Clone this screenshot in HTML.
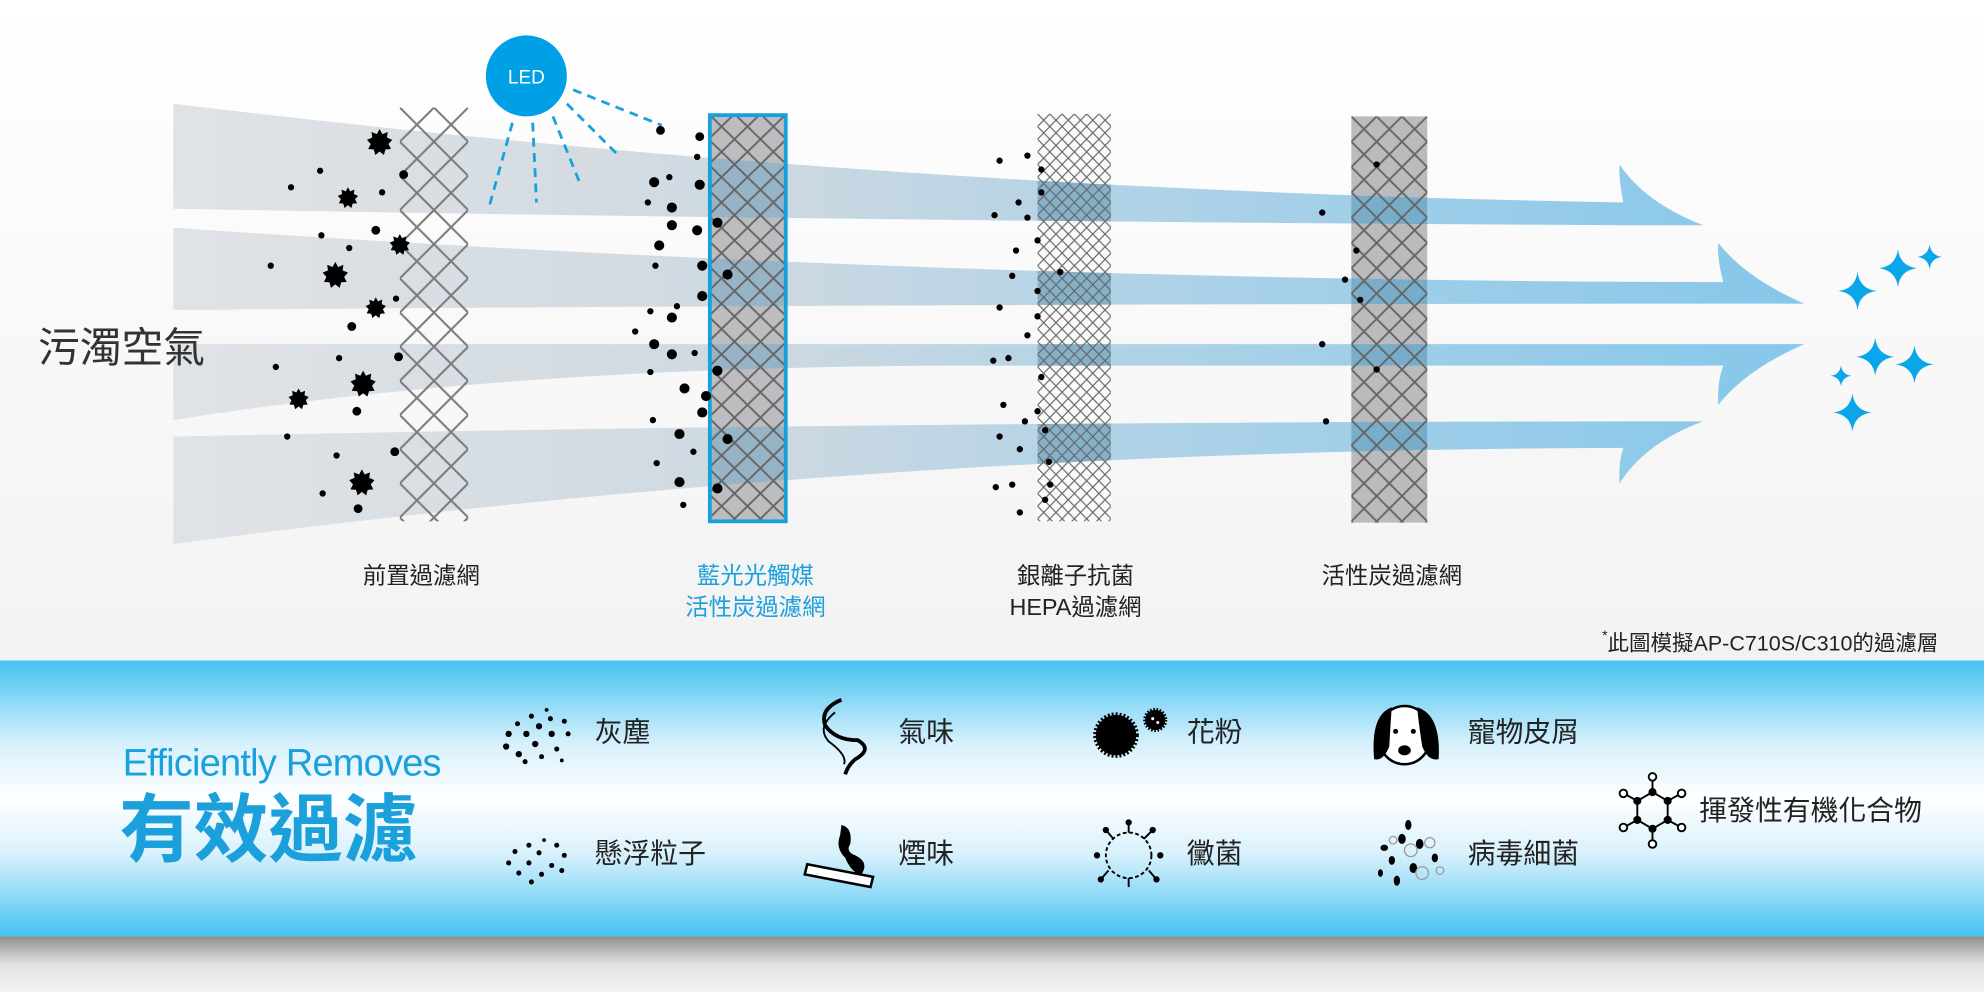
<!DOCTYPE html>
<html><head><meta charset="utf-8"><style>
html,body{margin:0;padding:0;background:#fff}
svg{display:block}
text{font-family:"Liberation Sans","Noto Sans CJK TC",sans-serif}
</style></head><body>
<svg width="1984" height="992" viewBox="0 0 1568 784" xmlns="http://www.w3.org/2000/svg">
<defs>
<linearGradient id="bg" x1="0" y1="0" x2="0" y2="1"><stop offset="0" stop-color="#ffffff"/><stop offset="1" stop-color="#ececec"/></linearGradient>
<linearGradient id="band" x1="0" y1="0" x2="0" y2="1"><stop offset="0" stop-color="#45c3f1"/><stop offset="0.3" stop-color="#d6f0fc"/><stop offset="0.5" stop-color="#ffffff"/><stop offset="0.7" stop-color="#d9f1fc"/><stop offset="1" stop-color="#45c3f1"/></linearGradient>
<linearGradient id="shadow" x1="0" y1="0" x2="0" y2="1"><stop offset="0" stop-color="#8e8e8e"/><stop offset="0.5" stop-color="#e2e2e2"/><stop offset="1" stop-color="#f2f2f2"/></linearGradient>
<linearGradient id="beam" x1="137" y1="0" x2="1420" y2="0" gradientUnits="userSpaceOnUse"><stop offset="0" stop-color="#e0e3e6"/><stop offset="0.35" stop-color="#cfd9e1"/><stop offset="0.65" stop-color="#a9d1e8"/><stop offset="1" stop-color="#86c7ea"/></linearGradient>
<pattern id="p1" x="316" y="85" width="27" height="27" patternUnits="userSpaceOnUse"><path d="M0,0L27,27M27,0L0,27" stroke="#7a7a7a" stroke-width="1.6" fill="none"/></pattern>
<pattern id="p2" x="560" y="90" width="20.5" height="20" patternUnits="userSpaceOnUse"><path d="M0,0L20.5,20M20.5,0L0,20" stroke="#666" stroke-width="1.5" fill="none"/></pattern>
<pattern id="p3" x="820" y="90" width="9.7" height="10" patternUnits="userSpaceOnUse"><path d="M0,0L9.7,10M9.7,0L0,10" stroke="#666" stroke-width="0.9" fill="none"/></pattern>
<pattern id="p4" x="1068" y="92" width="20" height="20" patternUnits="userSpaceOnUse"><path d="M0,0L20,20M20,0L0,20" stroke="#666" stroke-width="1.5" fill="none"/></pattern>
<clipPath id="fc"><rect x="560" y="90" width="62" height="323"/><rect x="820" y="90" width="58" height="322"/><rect x="1068" y="92" width="60" height="321"/></clipPath>
<g id="beams">
<path d="M137,82 Q700,150 1283,160 Q1279,140 1280,130 Q1300,160 1346,178 L1283,178 Q700,175 137,165Z"/>
<path d="M137,180 Q750,222 1362,223 Q1357,205 1358,192 Q1380,220 1426,240 L1362,240 Q750,240 137,245Z"/>
<path d="M137,272 Q750,272 1426,272 Q1380,292 1358,320 Q1357,302 1362,289 L750,289 Q400,290 137,332Z"/>
<path d="M137,345 Q700,333 1346,333 Q1300,350 1280,382 Q1279,365 1283,354 Q700,355 137,430Z"/>
</g>
<path id="spk" d="M0,-15 Q1.7,-1.7 15,0 Q1.7,1.7 0,15 Q-1.7,1.7 -15,0 Q-1.7,-1.7 0,-15Z"/>
<path id="star" d="M0,-10 L2.2,-6 6.4,-7.7 5.8,-3.3 10,-1.5 7,1.8 9,5.8 4.6,6.2 3.4,10.5 0,7.7 -3.4,10.5 -4.6,6.2 -9,5.8 -7,1.8 -10,-1.5 -5.8,-3.3 -6.4,-7.7 -2.2,-6Z"/>
</defs>
<rect width="1568" height="784" fill="url(#bg)"/>

<rect x="560" y="90" width="62" height="323" fill="#bdbdbf"/>
<rect x="1068" y="92" width="60" height="321" fill="#bbbbbd"/>
<rect x="820" y="90" width="58" height="322" fill="#fafafa"/>

<use href="#beams" fill="url(#beam)"/>
<g clip-path="url(#fc)"><use href="#beams" fill="#2f6f94" opacity="0.35"/></g>

<rect x="316" y="85" width="54" height="327" fill="url(#p1)"/>
<rect x="560" y="90" width="62" height="323" fill="url(#p2)"/>
<rect x="820" y="90" width="58" height="322" fill="url(#p3)"/>
<rect x="1068" y="92" width="60" height="321" fill="url(#p4)"/>
<rect x="561" y="91" width="60" height="321" fill="none" stroke="#16a0dc" stroke-width="3"/>

<g stroke="#1aa0dc" stroke-width="2.2" stroke-dasharray="7,5" fill="none">
<path d="M453,71L523,99"/><path d="M448,82L490,124"/><path d="M437,92L458,144"/><path d="M421,97L424,160"/><path d="M405,97L387,162"/>
</g>
<circle cx="416" cy="60" r="32" fill="#00a0e6"/>
<text x="416" y="66" font-size="15" fill="#fff" text-anchor="middle">LED</text>

<g fill="#000">
<use href="#star" transform="translate(300,112) scale(1)"/>
<use href="#star" transform="translate(275,156) scale(0.8)"/>
<use href="#star" transform="translate(316,193) scale(0.8)"/>
<use href="#star" transform="translate(265,217) scale(1)"/>
<use href="#star" transform="translate(297,243) scale(0.8)"/>
<use href="#star" transform="translate(287,303) scale(1)"/>
<use href="#star" transform="translate(236,315) scale(0.8)"/>
<use href="#star" transform="translate(286,381) scale(1)"/>
<circle cx="230" cy="148" r="2.5"/><circle cx="253" cy="135" r="2.5"/><circle cx="319" cy="138" r="3.5"/><circle cx="302" cy="152" r="2.5"/><circle cx="297" cy="182" r="3.5"/><circle cx="254" cy="186" r="2.5"/><circle cx="276" cy="196" r="2.5"/><circle cx="214" cy="210" r="2.5"/><circle cx="313" cy="236" r="2.5"/><circle cx="278" cy="258" r="3.5"/><circle cx="315" cy="282" r="3.5"/><circle cx="218" cy="290" r="2.5"/><circle cx="268" cy="283" r="2.5"/><circle cx="282" cy="325" r="3.5"/><circle cx="227" cy="345" r="2.5"/><circle cx="312" cy="357" r="3.5"/><circle cx="266" cy="360" r="2.5"/><circle cx="283" cy="402" r="3.5"/><circle cx="255" cy="390" r="2.5"/>
<circle cx="522" cy="103" r="3.5"/><circle cx="553" cy="108" r="3.5"/><circle cx="551" cy="124" r="2.5"/><circle cx="529" cy="140" r="2.5"/><circle cx="517" cy="144" r="4"/><circle cx="553" cy="146" r="4"/><circle cx="512" cy="160" r="2.5"/><circle cx="531" cy="164" r="4"/><circle cx="531" cy="178" r="4"/><circle cx="567" cy="176" r="4"/><circle cx="551" cy="182" r="4"/><circle cx="521" cy="194" r="4"/><circle cx="518" cy="210" r="2.5"/><circle cx="555" cy="210" r="4"/><circle cx="575" cy="217" r="4"/><circle cx="555" cy="234" r="4"/><circle cx="514" cy="246" r="2.5"/><circle cx="535" cy="242" r="2.5"/><circle cx="531" cy="251" r="4"/><circle cx="502" cy="262" r="2.5"/><circle cx="517" cy="272" r="4"/><circle cx="531" cy="280" r="4"/><circle cx="549" cy="279" r="2.5"/><circle cx="567" cy="293" r="4"/><circle cx="514" cy="294" r="2.5"/><circle cx="541" cy="307" r="4"/><circle cx="558" cy="313" r="4"/><circle cx="555" cy="326" r="4"/><circle cx="516" cy="332" r="2.5"/><circle cx="537" cy="343" r="4"/><circle cx="575" cy="347" r="4"/><circle cx="548" cy="357" r="2.5"/><circle cx="519" cy="366" r="2.5"/><circle cx="537" cy="381" r="4"/><circle cx="567" cy="386" r="4"/><circle cx="540" cy="399" r="2.5"/>
<circle cx="790" cy="127" r="2.5"/><circle cx="812" cy="123" r="2.5"/><circle cx="823" cy="134" r="2.5"/><circle cx="823" cy="152" r="2.5"/><circle cx="805" cy="160" r="2.5"/><circle cx="786" cy="170" r="2.5"/><circle cx="812" cy="172" r="2.5"/><circle cx="820" cy="190" r="2.5"/><circle cx="803" cy="198" r="2.5"/><circle cx="838" cy="215" r="2.5"/><circle cx="800" cy="218" r="2.5"/><circle cx="820" cy="230" r="2.5"/><circle cx="790" cy="243" r="2.5"/><circle cx="820" cy="250" r="2.5"/><circle cx="812" cy="265" r="2.5"/><circle cx="785" cy="285" r="2.5"/><circle cx="797" cy="283" r="2.5"/><circle cx="823" cy="298" r="2.5"/><circle cx="793" cy="320" r="2.5"/><circle cx="820" cy="325" r="2.5"/><circle cx="810" cy="333" r="2.5"/><circle cx="790" cy="345" r="2.5"/><circle cx="826" cy="340" r="2.5"/><circle cx="806" cy="355" r="2.5"/><circle cx="829" cy="365" r="2.5"/><circle cx="787" cy="385" r="2.5"/><circle cx="800" cy="383" r="2.5"/><circle cx="830" cy="383" r="2.5"/><circle cx="806" cy="405" r="2.5"/><circle cx="826" cy="395" r="2.5"/>
<circle cx="1088" cy="130" r="2.5"/><circle cx="1045" cy="168" r="2.5"/><circle cx="1072" cy="198" r="2.5"/><circle cx="1063" cy="221" r="2.5"/><circle cx="1075" cy="237" r="2.5"/><circle cx="1045" cy="272" r="2.5"/><circle cx="1088" cy="292" r="2.5"/><circle cx="1048" cy="333" r="2.5"/>
</g>

<g fill="#0aa6ea">
<use href="#spk" transform="translate(1468,230)"/>
<use href="#spk" transform="translate(1500,212)"/>
<use href="#spk" transform="translate(1525,203) scale(0.65)"/>
<use href="#spk" transform="translate(1482,282)"/>
<use href="#spk" transform="translate(1513,288)"/>
<use href="#spk" transform="translate(1455,297) scale(0.55)"/>
<use href="#spk" transform="translate(1464,326)"/>
</g>

<text x="30" y="286" font-size="33" fill="#333">污濁空氣</text>
<g font-size="18.5" text-anchor="middle" fill="#222">
<text x="333" y="461">前置過濾網</text>
<text x="597" y="461" fill="#1ba0dc">藍光光觸媒</text>
<text x="597" y="486" fill="#1ba0dc">活性炭過濾網</text>
<text x="850" y="461">銀離子抗菌</text>
<text x="850" y="486">HEPA過濾網</text>
<text x="1100" y="461">活性炭過濾網</text>
</g>
<text x="1532" y="514" font-size="17" fill="#222" text-anchor="end"><tspan font-size="11" dy="-8">*</tspan><tspan dy="8">此圖模擬AP-C710S/C310的過濾層</tspan></text>

<rect x="0" y="522" width="1568" height="218" fill="url(#band)"/>
<rect x="0" y="740" width="1568" height="44" fill="url(#shadow)"/>
<text x="97" y="613" font-size="30" fill="#1ba0dc" letter-spacing="-0.6">Efficiently Removes</text>
<text x="94" y="676" font-size="59" font-weight="bold" fill="#1ba0dc">有效過濾</text>

<g font-size="22" fill="#222">
<text x="470" y="586">灰塵</text>
<text x="710" y="586">氣味</text>
<text x="938" y="586">花粉</text>
<text x="1160" y="586">寵物皮屑</text>
<text x="470" y="682">懸浮粒子</text>
<text x="710" y="682">煙味</text>
<text x="938" y="682">黴菌</text>
<text x="1160" y="682">病毒細菌</text>
<text x="1343" y="648">揮發性有機化合物</text>
</g>

<g fill="#000">
<circle cx="432" cy="561" r="1.5"/><circle cx="420" cy="566" r="2"/><circle cx="435" cy="568" r="2"/><circle cx="409" cy="572" r="2"/><circle cx="426" cy="574" r="2.5"/><circle cx="446" cy="570" r="2"/><circle cx="402" cy="580" r="2.5"/><circle cx="416" cy="580" r="2.5"/><circle cx="436" cy="580" r="2.5"/><circle cx="449" cy="580" r="2"/><circle cx="400" cy="590" r="2.5"/><circle cx="423" cy="588" r="2.5"/><circle cx="440" cy="592" r="2"/><circle cx="410" cy="596" r="2.5"/><circle cx="428" cy="598" r="2"/><circle cx="444" cy="601" r="1.5"/><circle cx="415" cy="602" r="2"/>
<circle cx="430" cy="664" r="1.5"/><circle cx="418" cy="668" r="2"/><circle cx="440" cy="668" r="2"/><circle cx="407" cy="673" r="2"/><circle cx="426" cy="674" r="2"/><circle cx="446" cy="676" r="2"/><circle cx="402" cy="682" r="2"/><circle cx="418" cy="682" r="2"/><circle cx="436" cy="684" r="2"/><circle cx="410" cy="690" r="2"/><circle cx="428" cy="691" r="2"/><circle cx="444" cy="688" r="2"/><circle cx="420" cy="697" r="2"/>
<circle cx="882" cy="581" r="16" stroke="#000" stroke-width="4" stroke-dasharray="1.5,1.5"/>
<circle cx="882" cy="581" r="15"/>
<circle cx="913" cy="569" r="8" stroke="#000" stroke-width="3" stroke-dasharray="1.2,1.2"/>
<circle cx="911" cy="568" r="1.2" fill="#fff"/><circle cx="915" cy="571" r="1.2" fill="#fff"/>
<ellipse cx="1110" cy="581" rx="21" ry="23" fill="#fff" stroke="#000" stroke-width="2"/>
<path d="M1100,559 Q1083,565 1086,600 Q1093,602 1098,590 Q1099,570 1100,559Z"/>
<path d="M1120,559 Q1139,565 1137,600 Q1129,602 1124,590 Q1121,570 1120,559Z"/>
<ellipse cx="1110" cy="593" rx="5" ry="4"/>
<circle cx="1103" cy="578" r="2"/><circle cx="1117" cy="578" r="2"/>
<g stroke="#000" stroke-width="1.5">
<circle cx="892" cy="676" r="18" fill="none" stroke-dasharray="3,2"/>
<path d="M892,658L892,650M880,663L874,656M904,663L911,656M876,688L870,695M908,688L914,695M892,694L892,701"/>
</g>
<circle cx="892" cy="650" r="2.5"/><circle cx="874" cy="656" r="2.5"/><circle cx="911" cy="656" r="2.5"/><circle cx="870" cy="695" r="2.5"/><circle cx="914" cy="695" r="2.5"/><circle cx="867" cy="676" r="2.5"/><circle cx="917" cy="676" r="2.5"/>
<ellipse cx="1113" cy="652" rx="2.5" ry="4"/><ellipse cx="1108" cy="663" rx="3" ry="4"/><ellipse cx="1094" cy="670" rx="3" ry="2.5"/><ellipse cx="1122" cy="667" rx="3" ry="4"/><ellipse cx="1100" cy="680" rx="2.5" ry="3.5"/><ellipse cx="1117" cy="686" rx="3" ry="4"/><ellipse cx="1104" cy="696" rx="2.5" ry="4"/><ellipse cx="1134" cy="678" rx="2.5" ry="3.5"/><ellipse cx="1091" cy="690" rx="2" ry="3"/>
<g fill="none" stroke="#999" stroke-width="1"><circle cx="1115" cy="672" r="5"/><circle cx="1130" cy="666" r="4"/><circle cx="1124" cy="690" r="5"/><circle cx="1101" cy="664" r="3"/><circle cx="1138" cy="688" r="3"/></g>
</g>
<path d="M665,553 Q648,560 652,573 Q660,585 678,585 Q690,592 676,600 Q670,605 668,612" fill="none" stroke="#000" stroke-width="3"/>
<path d="M660,563 Q645,575 655,586 Q670,597 667,604" fill="none" stroke="#000" stroke-width="1.5"/>
<path d="M665,652 Q674,654 672,667 Q668,673 676,676 Q688,682 680,692 Q672,688 668,678 Q660,670 664,660Z" fill="#000"/>
<path d="M638,683 L690,693 L688,701 L636,691Z" fill="#fff" stroke="#000" stroke-width="2"/>
<g stroke="#000" stroke-width="1.5" fill="none">
<path d="M1306,626L1318,633L1318,648L1306,655L1294,648L1294,633Z"/>
<path d="M1306,626L1306,617M1306,655L1306,664M1294,633L1285,628M1318,633L1327,628M1294,648L1285,653M1318,648L1327,653"/>
<circle cx="1306" cy="614" r="3" fill="#fff"/><circle cx="1306" cy="667" r="3" fill="#fff"/><circle cx="1283" cy="627" r="3" fill="#fff"/><circle cx="1329" cy="627" r="3" fill="#fff"/><circle cx="1283" cy="654" r="3" fill="#fff"/><circle cx="1329" cy="654" r="3" fill="#fff"/>
</g>
<g fill="#000"><circle cx="1306" cy="626" r="3.2"/><circle cx="1318" cy="633" r="3.2"/><circle cx="1318" cy="648" r="3.2"/><circle cx="1306" cy="655" r="3.2"/><circle cx="1294" cy="648" r="3.2"/><circle cx="1294" cy="633" r="3.2"/></g>
</svg>
</body></html>
